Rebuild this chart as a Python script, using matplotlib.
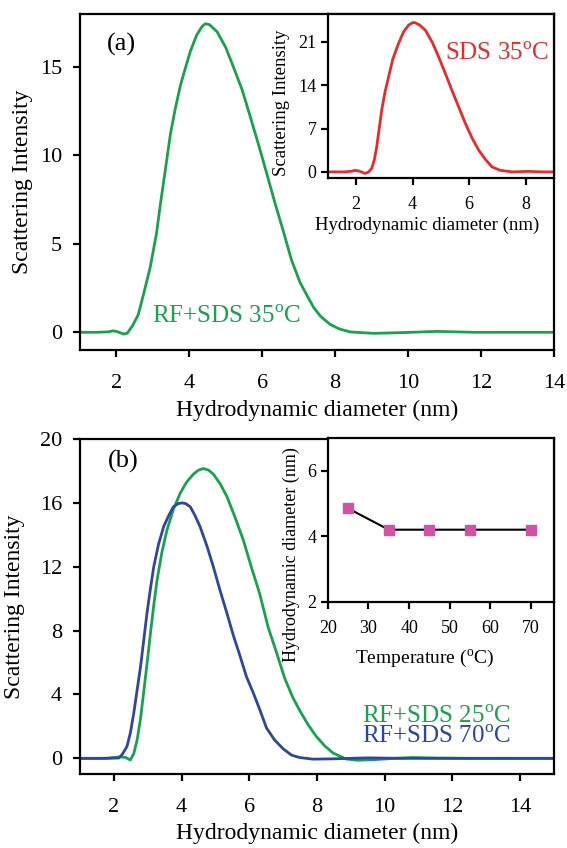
import matplotlib
matplotlib.use('Agg')
import matplotlib.pyplot as plt

plt.rcParams['font.family'] = ['Liberation Serif', 'DejaVu Serif']
plt.rcParams['mathtext.fontset'] = 'custom'
plt.rcParams['mathtext.rm'] = 'Liberation Serif'

GREEN = '#17a24f'
BLUE = '#2f46a0'
RED = '#ea2a2a'
PINK = '#d452a6'

# (a) RF+SDS 35 C
xa = [1.0, 1.5, 1.8, 1.9, 2.0, 2.2, 2.3, 2.45, 2.6, 2.75, 2.93, 3.1, 3.21, 3.35, 3.48, 3.62,
      3.76, 3.9, 4.03, 4.2, 4.35, 4.44, 4.55, 4.76, 5.0, 5.21, 5.45, 5.67, 5.9, 6.12, 6.35,
      6.58, 6.8, 7.04, 7.25, 7.41, 7.6, 7.86, 8.1, 8.41, 9.05, 9.8, 10.8, 11.8, 13.0, 14.0]
ya = [0, 0, 0.03, 0.08, 0.05, -0.1, -0.05, 0.4, 1.0, 2.2, 3.7, 5.6, 7.3, 9.3, 11.2, 12.7,
      14.0, 15.0, 15.9, 16.8, 17.3, 17.45, 17.4, 17.0, 16.1, 15.0, 13.7, 12.2, 10.6, 9.0, 7.3,
      5.7, 4.1, 2.8, 2.0, 1.4, 0.9, 0.45, 0.2, 0.02, -0.06, -0.02, 0.05, 0.0, 0.0, 0.0]

# inset (a) SDS 35 C
xs = [1.05, 1.6, 1.85, 1.96, 2.1, 2.32, 2.45, 2.56, 2.65, 2.73, 2.82, 2.91, 3.03, 3.15, 3.3,
      3.5, 3.68, 3.86, 4.0, 4.09, 4.25, 4.45, 4.7, 4.92, 5.15, 5.39, 5.63, 5.87, 6.1, 6.34,
      6.58, 6.81, 7.1, 7.52, 8.1, 8.6, 9.0]
ys = [0, 0, 0.1, 0.25, 0.15, -0.25, 0.0, 0.6, 2.0, 4.0, 7.0, 10.0, 13.0, 15.3, 18.2,
      20.7, 22.6, 23.7, 24.1, 24.1, 23.7, 22.9, 20.9, 18.6, 16.0, 13.2, 10.5, 7.8, 5.5, 3.5,
      2.0, 0.8, 0.25, 0.0, 0.08, 0.0, 0.0]

# (b) RF+SDS 25 C
x25 = [1.0, 1.8, 2.2, 2.35, 2.49, 2.59, 2.69, 2.79, 2.88, 2.98, 3.08, 3.18, 3.28, 3.42, 3.57,
       3.76, 3.96, 4.15, 4.35, 4.5, 4.65, 4.8, 4.94, 5.14, 5.34, 5.58, 5.82, 6.06, 6.31, 6.56,
       6.81, 7.05, 7.29, 7.49, 7.74, 7.98, 8.22, 8.47, 8.86, 9.2, 9.7, 10.3, 10.8, 11.5, 12.5, 15.0]
y25 = [0, 0, 0.1, 0.05, -0.1, 0.3, 1.17, 2.5, 4.1, 5.9, 7.8, 9.6, 11.2, 12.9, 14.3,
       15.6, 16.6, 17.3, 17.8, 18.05, 18.15, 18.05, 17.8, 17.2, 16.4, 15.1, 13.7, 12.0, 10.3, 8.2,
       6.6, 5.0, 3.8, 3.0, 2.1, 1.375, 0.8, 0.34, -0.04, -0.12, -0.08, 0.0, 0.05, 0.02, 0.0, 0.0]

# (b) RF+SDS 70 C
x70 = [1.0, 1.6, 2.15, 2.25, 2.39, 2.49, 2.59, 2.69, 2.79, 2.89, 2.98, 3.08, 3.18, 3.32, 3.47,
       3.62, 3.76, 3.9, 4.01, 4.13, 4.26, 4.4, 4.55, 4.75, 4.94, 5.14, 5.34, 5.53, 5.73, 5.92,
       6.12, 6.32, 6.51, 6.75, 7.0, 7.25, 7.49, 7.88, 8.5, 9.5, 10.5, 12.0, 15.0]
y70 = [0, 0, 0.02, 0.25, 0.75, 1.6, 2.84, 4.3, 5.75, 7.5, 9.1, 10.6, 12.0, 13.4, 14.5,
       15.2, 15.75, 15.95, 16.0, 15.95, 15.75, 15.2, 14.5, 13.3, 12.0, 10.5, 9.1, 7.7, 6.4, 5.1,
       4.1, 3.0, 1.9, 1.15, 0.6, 0.2, 0.05, -0.05, -0.03, 0.03, 0.0, 0.0, 0.0]

# inset (b) diameter vs temperature
temps = [25, 35, 45, 55, 70]
diam = [4.85, 4.2, 4.2, 4.2, 4.2]


def style(ax, size, xpad, ypad):
    for s in ax.spines.values():
        s.set_linewidth(1.6)
    ax.tick_params(direction='out', length=5, width=1.6, labelsize=size, top=False, right=False)
    ax.tick_params(axis='x', pad=xpad)
    ax.tick_params(axis='y', pad=ypad)


fig = plt.figure(figsize=(5.67, 8.48), dpi=100)

# panel (a)
ax1 = fig.add_axes([0.141, 0.5873, 0.836, 0.3962])
ax1.plot(xa, ya, color=GREEN, lw=2)
ax1.set_xlim(1, 14)
ax1.set_ylim(-1, 18)
ax1.set_xticks([2, 4, 6, 8, 10, 12, 14])
ax1.set_yticks([0, 5, 10, 15])
style(ax1, 16, 12, 8)
ax1.set_xlabel('Hydrodynamic diameter (nm)', fontsize=17)
ax1.set_ylabel('Scattering Intensity', fontsize=17)
ax1.xaxis.set_label_coords(0.5, -0.149)
ax1.yaxis.set_label_coords(-0.099, 0.5)
ax1.text(0.057, 0.91, '(a)', transform=ax1.transAxes, fontsize=19, va='center')
ax1.text(0.152, 0.08, r'RF+SDS 35$^{\mathrm{o}}$C', transform=ax1.transAxes,
         fontsize=18, color=GREEN, va='baseline')

# inset (a)
ins1 = fig.add_axes([0.578, 0.790, 0.399, 0.1935])
ins1.set_facecolor('white')
ins1.plot(xs, ys, color=RED, lw=2)
ins1.set_xlim(1, 9)
ins1.set_ylim(-1, 25.5)
ins1.set_xticks([2, 4, 6, 8])
ins1.set_yticks([0, 7, 14, 21])
style(ins1, 13, 8, 3)
ins1.set_xlabel('Hydrodynamic diameter (nm)', fontsize=13.5)
ins1.set_ylabel('Scattering Intensity', fontsize=13.5)
ins1.xaxis.set_label_coords(0.44, -0.235)
ins1.yaxis.set_label_coords(-0.167, 0.46)
ins1.text(0.518, 0.72, r'SDS 35$^{\mathrm{o}}$C', transform=ins1.transAxes,
          fontsize=18, color=RED, va='baseline')

# panel (b)
ax2 = fig.add_axes([0.141, 0.0869, 0.836, 0.3954])
ax2.plot(x25, y25, color=GREEN, lw=2)
ax2.plot(x70, y70, color=BLUE, lw=2)
ax2.set_xlim(1, 15)
ax2.set_ylim(-1, 20)
ax2.set_xticks([2, 4, 6, 8, 10, 12, 14])
ax2.set_yticks([0, 4, 8, 12, 16, 20])
style(ax2, 16, 12, 8)
ax2.set_xlabel('Hydrodynamic diameter (nm)', fontsize=17)
ax2.set_ylabel('Scattering Intensity', fontsize=17)
ax2.xaxis.set_label_coords(0.5, -0.145)
ax2.yaxis.set_label_coords(-0.116, 0.5)
ax2.text(0.059, 0.934, '(b)', transform=ax2.transAxes, fontsize=19, va='center')
ax2.text(0.594, 0.153, r'RF+SDS 25$^{\mathrm{o}}$C', transform=ax2.transAxes,
         fontsize=18, color=GREEN, va='baseline')
ax2.text(0.594, 0.093, r'RF+SDS 70$^{\mathrm{o}}$C', transform=ax2.transAxes,
         fontsize=18, color=BLUE, va='baseline')

# inset (b)
ins2 = fig.add_axes([0.578, 0.2904, 0.399, 0.1931])
ins2.set_facecolor('white')
ins2.plot(temps, diam, color='black', lw=1.5, marker='s', ms=6.5,
          mfc=PINK, mec=PINK)
ins2.set_xlim(20, 75.6)
ins2.set_ylim(2, 7)
ins2.set_xticks([20, 30, 40, 50, 60, 70])
ins2.set_yticks([2, 4, 6])
style(ins2, 13, 8, 3)
ins2.set_xlabel(r'Temperature ($^{\mathrm{o}}$C)', fontsize=14)
ins2.set_ylabel('Hydrodynamic diameter (nm)', fontsize=13)
ins2.xaxis.set_label_coords(0.428, -0.277)
ins2.yaxis.set_label_coords(-0.122, 0.29)

fig.savefig('out.png', dpi=100)
